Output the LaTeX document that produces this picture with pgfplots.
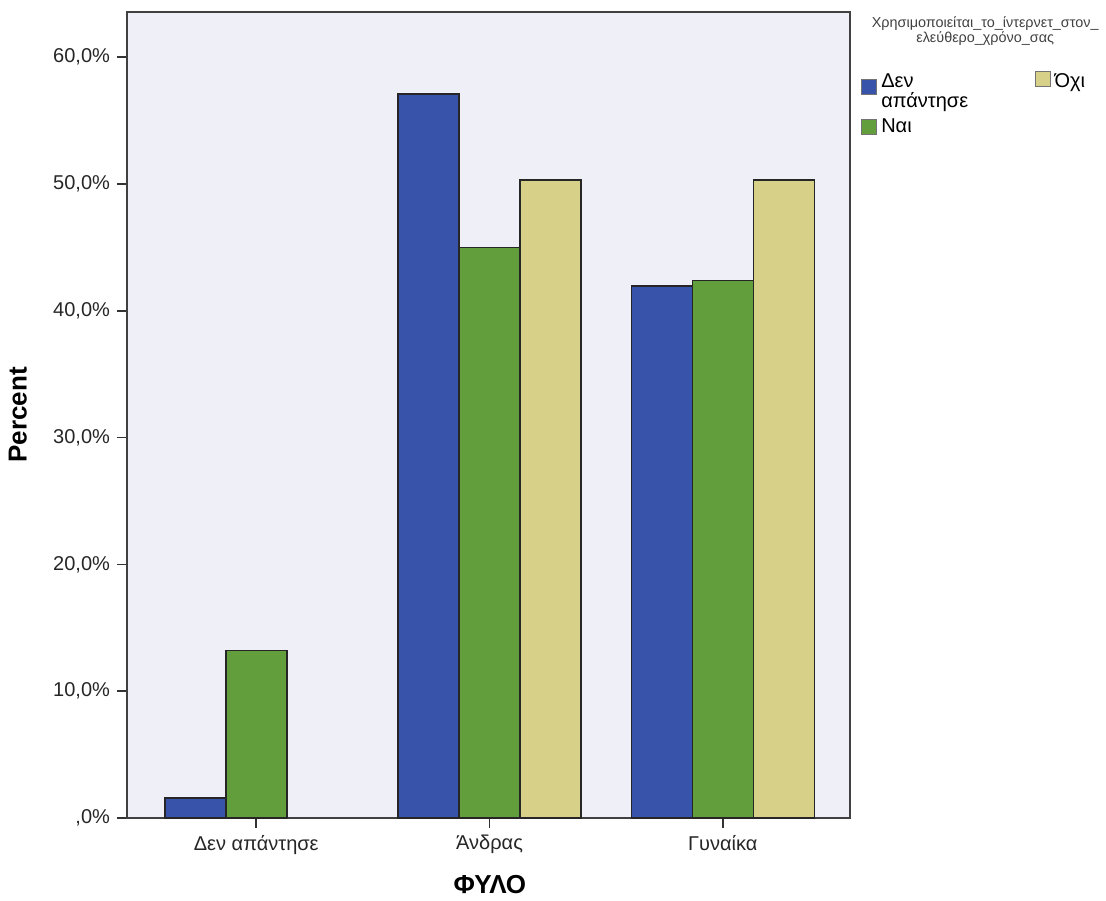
\documentclass[border=0pt]{standalone}
\usepackage{pgfplots}
\pgfplotsset{compat=1.18}
\usepackage{fontspec}
\setmainfont{Liberation Sans}
\definecolor{bblue}{RGB}{55,84,170}
\definecolor{bgreen}{RGB}{99,158,60}
\definecolor{btan}{RGB}{215,208,136}
\definecolor{bgc}{RGB}{238,239,247}
\begin{document}
\begin{tikzpicture}
\useasboundingbox (-63.5pt,-41pt) rectangle (489.5pt,409pt);
\begin{axis}[
  at={(0,0)}, anchor=south west,
  scale only axis, width=361.5pt, height=403pt,
  clip=false,
  xmin=-0.554, xmax=2.545, ymin=0, ymax=63.56,
  axis background/.style={fill=bgc},
  axis line style={draw=black!75, line width=0.9pt},
  ybar, bar width=30.5pt,
  xtick={0,1,2},
  xticklabels={Δεν απάντησε,Άνδρας,Γυναίκα},
  ytick={0,10,20,30,40,50,60},
  yticklabels={{,0\%},{10,0\%},{20,0\%},{30,0\%},{40,0\%},{50,0\%},{60,0\%}},
  tick align=outside, major tick length=5pt,
  tick style={black!80, line width=0.8pt},
  xtick pos=bottom, ytick pos=left,
  ticklabel style={font=\fontsize{10}{12}\selectfont, text=black!85},
  xlabel={ΦΥΛΟ}, ylabel={Percent},
  xlabel style={font=\fontsize{13}{15}\selectfont\bfseries, at={(axis description cs:0.502,-0.083)}, anchor=center},
  ylabel style={font=\fontsize{13}{15}\selectfont\bfseries, at={(axis description cs:-0.151,0.5)}, anchor=center, rotate=0},
  legend style={draw=none, fill=none, at={(1.007,0.9324)}, anchor=north west,
    font=\fontsize{10}{11}\selectfont, legend columns=2,
    /tikz/every even column/.append style={column sep=31.3pt},
    row sep=12.1pt},
  legend cell align=left,
]
\addplot[fill=bblue, draw=black!85, line width=0.8pt, bar shift=-30.5pt, forget plot] coordinates {(0,1.6) (1,57.1) (2,41.95)};
\addplot[fill=bgreen, draw=black!85, line width=0.8pt, bar shift=0pt, forget plot] coordinates {(0,13.2) (1,45.0) (2,42.4)};
\addplot[fill=btan, draw=black!85, line width=0.8pt, bar shift=30.5pt, forget plot] coordinates {(1,50.3) (2,50.3)};
\addlegendimage{legend image code/.code={\draw[fill=bblue, draw=black!55, line width=0.4pt] (0pt,-2.75pt) rectangle (7.5pt,4.75pt);}}
\addlegendentry{\raisebox{0pt}[0pt][0pt]{\begin{tabular}[t]{@{}l@{}}Δεν\\[-1pt]απάντησε\end{tabular}}}
\addlegendimage{legend image code/.code={\draw[fill=btan, draw=black!55, line width=0.4pt] (0pt,1.25pt) rectangle (7.5pt,8.75pt);}}
\addlegendentry{\raisebox{0pt}[0pt][0pt]{Όχι}}
\addlegendimage{legend image code/.code={\draw[fill=bgreen, draw=black!55, line width=0.4pt] (0pt,-0.25pt) rectangle (7.5pt,7.25pt);}}
\addlegendentry{\raisebox{0pt}[0pt][0pt]{Ναι}}
\node[font=\fontsize{7.2}{7.6}\selectfont, align=center, text=black!75] at (axis description cs:1.187,0.976) {Χρησιμοποιείται\_το\_ίντερνετ\_στον\_\\ελεύθερο\_χρόνο\_σας};
\end{axis}
\end{tikzpicture}
\end{document}
